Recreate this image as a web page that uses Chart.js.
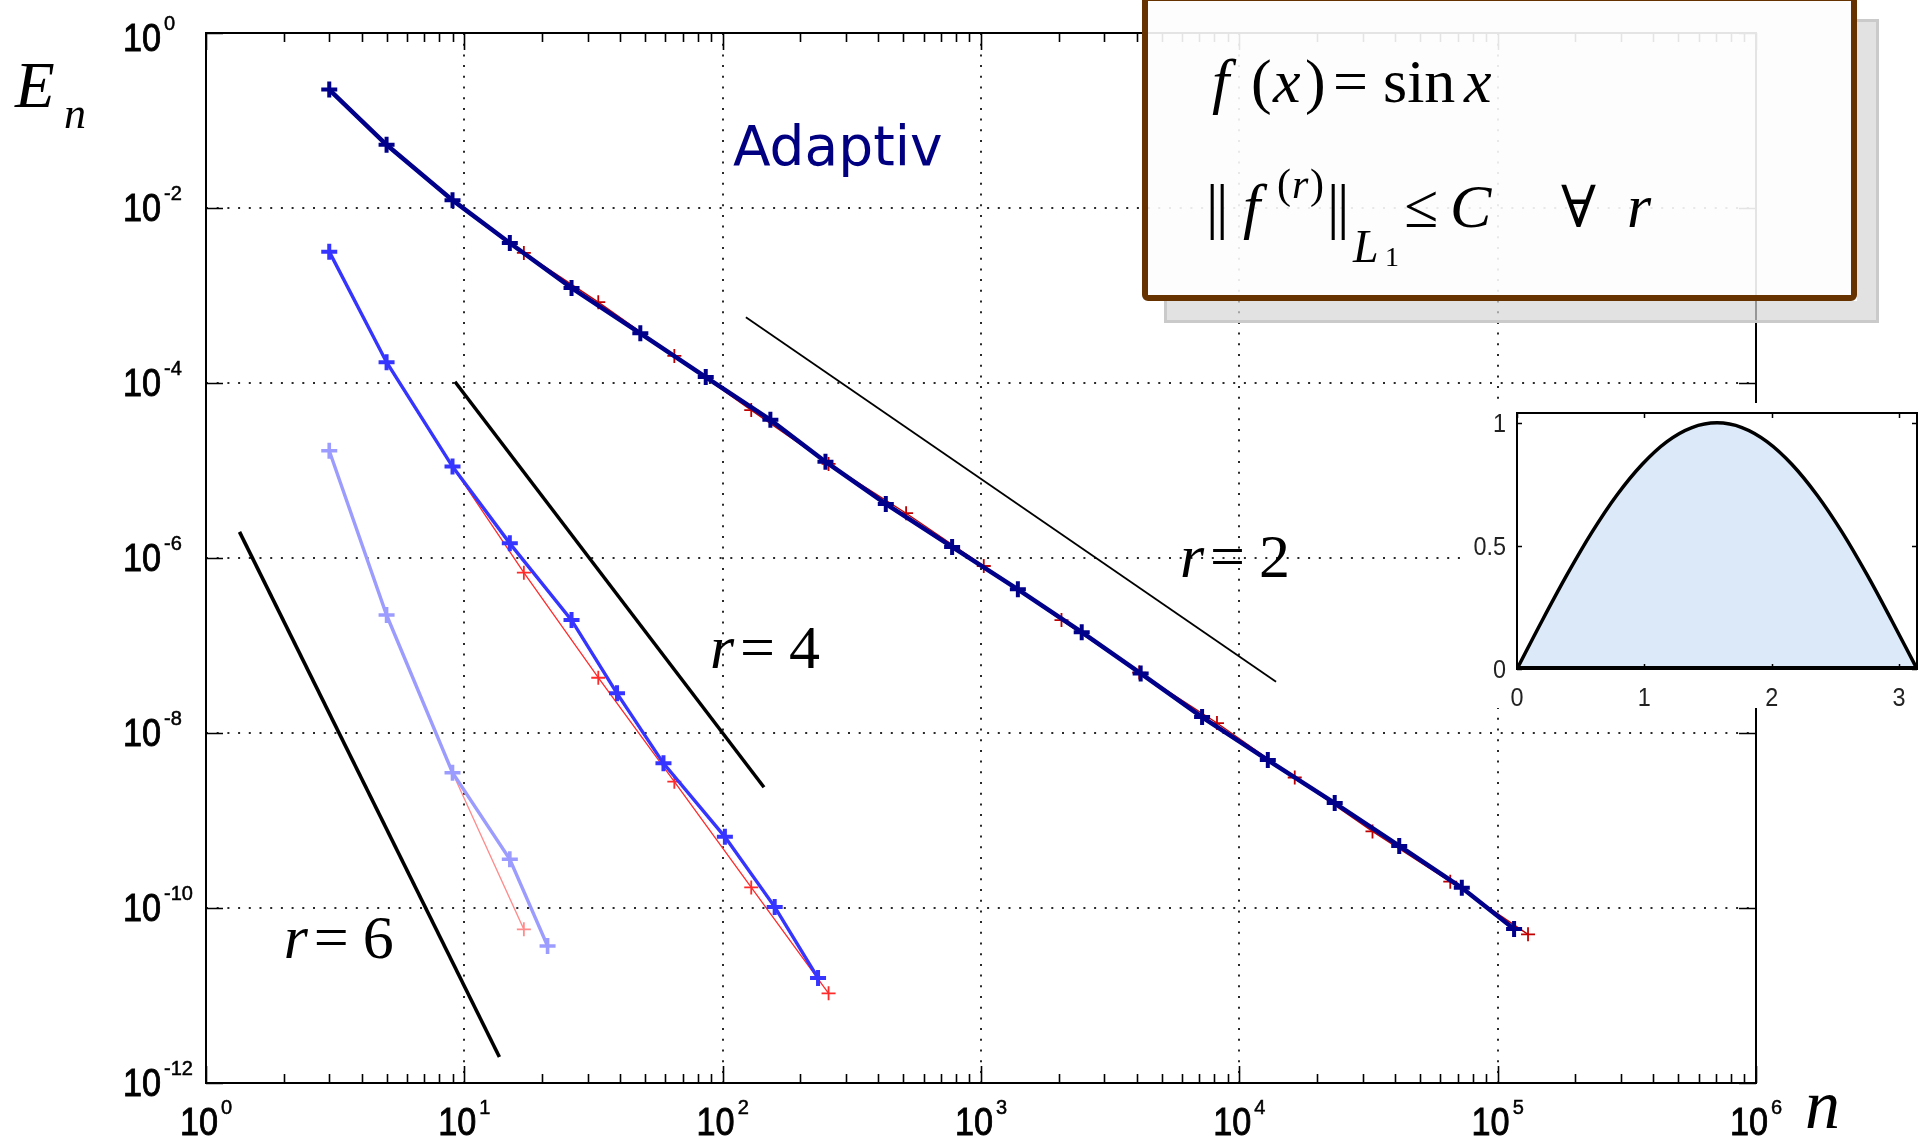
<!DOCTYPE html>
<html>
<head>
<meta charset="utf-8">
<script src="https://cdn.jsdelivr.net/npm/chart.js@4.4.0/dist/chart.umd.min.js"></script>
<style>
html,body{margin:0;padding:0;background:#fff;overflow:hidden}
#wrap{position:relative;width:1926px;height:1141px;background:#fff}
#main{position:absolute;left:0;top:0}
#inset{position:absolute;left:1466px;top:403px;background:#fff}
</style>
</head>
<body>
<div id="wrap">
<canvas id="main" width="1926" height="1141"></canvas>
<canvas id="inset" width="460" height="305"></canvas>
</div>
<script>
// ---------------- data ----------------
const xTickExponents = [0, 1, 2, 3, 4, 5, 6];
const yTickExponents = [0, -2, -4, -6, -8, -10, -12];

// r = 2 : adaptive (dark blue) and uniform (red)
const nAdaptiveR2 = [3, 5, 9, 15, 26, 48, 86, 153, 250, 428, 773, 1389, 2454, 4150, 7175, 12890, 23400, 41590, 72640, 115760];
const eAdaptiveR2 = [0.226, 0.0528, 0.0123, 0.00398, 0.00122, 3.70e-4, 1.17e-4, 3.79e-5, 1.26e-5, 4.15e-6, 1.34e-6, 4.39e-7, 1.42e-7, 4.8e-8, 1.52e-8, 4.91e-9, 1.58e-9, 5.12e-10, 1.70e-10, 5.77e-11];
const nUniformR2 = [3, 5, 9, 17, 33, 65, 129, 257, 513, 1025, 2049, 4097, 8193, 16385, 32769, 65537, 131073];
const eUniformR2 = [0.226, 0.0528, 0.0123, 3.07e-3, 8.4e-4, 2.04e-4, 4.9e-5, 1.19e-5, 3.25e-6, 8.1e-7, 1.95e-7, 4.9e-8, 1.3e-8, 3.1e-9, 7.5e-10, 2.0e-10, 5.0e-11];

// r = 4
const nAdaptiveR4 = [3, 5, 9, 15, 26, 39, 59, 102, 159, 234];
const eAdaptiveR4 = [3.17e-3, 1.73e-4, 1.11e-5, 1.47e-6, 1.95e-7, 2.84e-8, 4.5e-9, 6.5e-10, 1.03e-10, 1.58e-11];
const nUniformR4 = [3, 5, 9, 17, 33, 65, 129, 257];
const eUniformR4 = [3.17e-3, 1.73e-4, 1.11e-5, 6.8e-7, 4.28e-8, 2.78e-9, 1.72e-10, 1.06e-11];

// r = 6
const nAdaptiveR6 = [3, 5, 9, 15, 21];
const eAdaptiveR6 = [1.68e-5, 2.23e-7, 3.52e-9, 3.6e-10, 3.68e-11];
const nUniformR6 = [3, 5, 9, 17];
const eUniformR6 = [1.68e-5, 2.23e-7, 3.52e-9, 5.7e-11];

// reference slopes
const nSlopeR2 = [123, 13870];
const eSlopeR2 = [5.63e-4, 3.86e-8];
const nSlopeR4 = [9.2, 144.5];
const eSlopeR4 = [1.035e-4, 2.4e-9];
const nSlopeR6 = [1.348, 13.67];
const eSlopeR6 = [1.99e-6, 1.98e-12];

// inset: f(x) = sin x
const insetX = [0, 0.196, 0.393, 0.589, 0.785, 0.982, 1.178, 1.374, 1.571, 1.767, 1.963, 2.160, 2.356, 2.553, 2.749, 2.945, 3.142];
const insetY = [0, 0.195, 0.383, 0.556, 0.707, 0.831, 0.924, 0.981, 1.0, 0.981, 0.924, 0.831, 0.707, 0.556, 0.383, 0.195, 0];
const insetXTicks = [0, 1, 2, 3];
const insetYTicks = [0, 0.5, 1];

// ---------------- helpers ----------------
function pts(ns, es) { return ns.map((n, i) => ({ x: n, y: es[i] })); }

function txt(ctx, s, x, y, font, color, sx, align, stroke) {
  sx = sx || 1; align = align || 'left';
  ctx.save();
  ctx.font = font; ctx.fillStyle = color;
  ctx.textBaseline = 'alphabetic'; ctx.textAlign = 'left';
  const w = ctx.measureText(s).width * sx;
  const x0 = align === 'center' ? x - w / 2 : (align === 'right' ? x - w : x);
  ctx.translate(x0, y); ctx.scale(sx, 1);
  ctx.fillText(s, 0, 0);
  if (stroke) { ctx.strokeStyle = color; ctx.lineWidth = stroke; ctx.strokeText(s, 0, 0); }
  ctx.restore();
  return w;
}

const SANS = '"Liberation Sans", Arial, Helvetica, sans-serif';
const SERIF = '"Liberation Serif", "Times New Roman", "DejaVu Serif", serif';
const F_MAIN = '38px ' + SANS, F_EXP = '20px ' + SANS, SX = 0.9;

function powWidths(ctx, exp) {
  ctx.save();
  ctx.font = F_MAIN; const w1 = ctx.measureText('10').width * SX;
  ctx.font = F_EXP; const w2 = ctx.measureText(String(exp)).width;
  ctx.restore();
  return [w1, w2];
}
function drawPow(ctx, exp, left, baseline) {
  const [w1] = powWidths(ctx, exp);
  txt(ctx, '10', left, baseline, F_MAIN, '#000', SX, 'left', 0.9);
  txt(ctx, String(exp), left + w1 + 3, baseline - 21, F_EXP, '#000', 1, 'left', 0.5);
}

// ---------------- main chart decorations ----------------
const decor = {
  id: 'decor',
  beforeDatasetsDraw(chart) {
    const { ctx, chartArea: a, scales: { x, y } } = chart;
    ctx.save();
    ctx.strokeStyle = '#2a2a2a'; ctx.lineWidth = 2; ctx.setLineDash([2, 8.7]);
    xTickExponents.slice(1, -1).forEach(k => {
      const px = Math.round(x.getPixelForValue(Math.pow(10, k)));
      ctx.beginPath(); ctx.moveTo(px, a.top); ctx.lineTo(px, a.bottom); ctx.stroke();
    });
    yTickExponents.slice(1, -1).forEach(k => {
      const py = Math.round(y.getPixelForValue(Math.pow(10, k)));
      ctx.beginPath(); ctx.moveTo(a.left, py); ctx.lineTo(a.right, py); ctx.stroke();
    });
    ctx.restore();
  },
  afterDatasetsDraw(chart) {
    const { ctx, chartArea: a, scales: { x, y } } = chart;
    ctx.save();
    // axes box
    ctx.strokeStyle = '#000'; ctx.lineWidth = 2; ctx.setLineDash([]);
    ctx.strokeRect(a.left, a.top, a.right - a.left, a.bottom - a.top);
    // x ticks (major + minor, bottom and top)
    ctx.lineWidth = 1.6;
    for (let i = 0; i < xTickExponents.length; i++) {
      const k = xTickExponents[i];
      const px = Math.round(x.getPixelForValue(Math.pow(10, k))) + 0.5;
      ctx.beginPath();
      ctx.moveTo(px, a.bottom); ctx.lineTo(px, a.bottom - 17);
      ctx.moveTo(px, a.top); ctx.lineTo(px, a.top + 17);
      ctx.stroke();
      if (i < xTickExponents.length - 1) {
        for (let m = 2; m <= 9; m++) {
          const mx = Math.round(x.getPixelForValue(m * Math.pow(10, k))) + 0.5;
          ctx.beginPath();
          ctx.moveTo(mx, a.bottom); ctx.lineTo(mx, a.bottom - 9);
          ctx.moveTo(mx, a.top); ctx.lineTo(mx, a.top + 9);
          ctx.stroke();
        }
      }
    }
    // y ticks
    yTickExponents.forEach(k => {
      const py = Math.round(y.getPixelForValue(Math.pow(10, k))) + 0.5;
      ctx.beginPath();
      ctx.moveTo(a.left, py); ctx.lineTo(a.left + 17, py);
      ctx.moveTo(a.right, py); ctx.lineTo(a.right - 17, py);
      ctx.stroke();
    });
    // x tick labels
    xTickExponents.forEach(k => {
      const px = x.getPixelForValue(Math.pow(10, k));
      const [w1, w2] = powWidths(ctx, k);
      const total = w1 + 3 + w2;
      drawPow(ctx, k, px - total / 2, a.bottom + 52);
    });
    // y tick labels
    yTickExponents.forEach((k, i) => {
      let py = y.getPixelForValue(Math.pow(10, k));
      if (i === 0) py += 5;
      drawPow(ctx, k, 123, py + 13);
    });

    // axis titles
    txt(ctx, 'E', 15, 107, 'italic 65px ' + SERIF, '#000');
    txt(ctx, 'n', 64, 128, 'italic 44px ' + SERIF, '#000');
    txt(ctx, 'n', 1805, 1128, 'italic 70px ' + SERIF, '#000');

    // annotations anchored in data coordinates
    const ax = x.getPixelForValue(109.6), ay = y.getPixelForValue(0.031);
    txt(ctx, 'Adaptiv', ax, ay, '55px "DejaVu Sans", Verdana, sans-serif', '#000080');
    const rLabels = [
      { d: '2', n: 5893, e: 6.07e-7 },
      { d: '4', n: 89.3, e: 5.53e-8 },
      { d: '6', n: 2.0, e: 2.68e-11 }
    ];
    rLabels.forEach(L => {
      const lx = x.getPixelForValue(L.n), ly = y.getPixelForValue(L.e);
      txt(ctx, 'r', lx, ly, 'italic 62px ' + SERIF, '#000');
      txt(ctx, '=', lx + 30, ly, '62px ' + SERIF, '#000');
      txt(ctx, L.d, lx + 79, ly, '62px ' + SERIF, '#000');
    });

    // legend / formula box with shadow
    const bx = 1145, by = -2, bw = 709, bh = 300;
    const sxx = 1164, syy = 19, sw = 715, sh = 304;
    ctx.save();
    ctx.beginPath();
    ctx.rect(0, 0, 1926, 1141);
    ctx.rect(bx - 3, by - 3, bw + 6, bh + 6);
    ctx.clip('evenodd');
    ctx.fillStyle = 'rgba(214,214,214,0.7)';
    ctx.fillRect(sxx, syy, sw, sh);
    ctx.strokeStyle = 'rgba(200,200,200,0.9)'; ctx.lineWidth = 3;
    ctx.strokeRect(sxx + 1.5, syy + 1.5, sw - 3, sh - 3);
    ctx.restore();

    ctx.fillStyle = 'rgba(253,253,253,0.9)';
    ctx.fillRect(bx, by, bw, bh);
    ctx.strokeStyle = '#663300'; ctx.lineWidth = 6;
    ctx.beginPath();
    if (ctx.roundRect) ctx.roundRect(bx, by, bw, bh, 3); else ctx.rect(bx, by, bw, bh);
    ctx.stroke();

    const I60 = 'italic 62px ' + SERIF, R60 = '62px ' + SERIF;
    // line 1 : f(x) = sin x
    txt(ctx, 'f', 1212, 102, I60, '#000');
    txt(ctx, '(', 1251, 102, R60, '#000');
    txt(ctx, 'x', 1273, 102, I60, '#000');
    txt(ctx, ')', 1305, 102, R60, '#000');
    txt(ctx, '=', 1333, 102, R60, '#000');
    txt(ctx, 'sin', 1383, 102, R60, '#000');
    txt(ctx, 'x', 1464, 102, I60, '#000');
    // line 2 : ||f^(r)||_{L1} <= C   forall r
    txt(ctx, '|', 1206, 227, R60, '#000');
    txt(ctx, '|', 1216, 227, R60, '#000');
    txt(ctx, 'f', 1243, 227, I60, '#000');
    txt(ctx, '(', 1277, 198, '42px ' + SERIF, '#000');
    txt(ctx, 'r', 1292, 198, 'italic 42px ' + SERIF, '#000');
    txt(ctx, ')', 1310, 198, '42px ' + SERIF, '#000');
    txt(ctx, '|', 1327, 227, R60, '#000');
    txt(ctx, '|', 1337, 227, R60, '#000');
    txt(ctx, 'L', 1353, 262, 'italic 46px ' + SERIF, '#000');
    txt(ctx, '1', 1385, 266, '28px ' + SERIF, '#000');
    txt(ctx, '\u2264', 1404, 227, R60, '#000');
    txt(ctx, 'C', 1450, 227, I60, '#000');
    txt(ctx, '\u2200', 1561, 227, '58px "DejaVu Serif", ' + SERIF, '#000');
    txt(ctx, 'r', 1627, 227, I60, '#000');
    ctx.restore();
  }
};

function lineDs(ns, es, color, bw, radius, pbw, order) {
  return {
    data: pts(ns, es), showLine: true, fill: false, tension: 0,
    borderColor: color, backgroundColor: color, borderWidth: bw,
    pointStyle: 'cross', pointRadius: radius, pointBorderWidth: pbw,
    pointBorderColor: color, pointBackgroundColor: color, order: order
  };
}

new Chart(document.getElementById('main'), {
  type: 'scatter',
  data: {
    datasets: [
      lineDs(nAdaptiveR2, eAdaptiveR2, '#00008b', 4.5, 8, 4, 0),
      lineDs(nAdaptiveR4, eAdaptiveR4, '#3535ff', 3.4, 8, 4, 1),
      lineDs(nAdaptiveR6, eAdaptiveR6, '#9c9cff', 3.4, 8, 3.6, 2),
      lineDs(nUniformR2, eUniformR2, '#c00000', 1.4, 7, 1.8, 3),
      lineDs(nUniformR4, eUniformR4, '#ff2a2a', 1.3, 7, 1.8, 4),
      lineDs(nUniformR6, eUniformR6, '#ff8c8c', 1.3, 7, 1.8, 5),
      lineDs(nSlopeR2, eSlopeR2, '#000', 1.8, 0, 0, 6),
      lineDs(nSlopeR4, eSlopeR4, '#000', 3.5, 0, 0, 7),
      lineDs(nSlopeR6, eSlopeR6, '#000', 3.6, 0, 0, 8)
    ]
  },
  options: {
    responsive: false, animation: false, devicePixelRatio: 1, events: [],
    layout: { padding: { left: 206, top: 33, right: 170, bottom: 58 } },
    plugins: { legend: { display: false }, tooltip: { enabled: false } },
    scales: {
      x: { type: 'logarithmic', min: 1, max: 1e6, display: false },
      y: { type: 'logarithmic', min: 1e-12, max: 1, display: false }
    }
  },
  plugins: [decor]
});

// ---------------- inset chart ----------------
const insetAxes = {
  id: 'insetAxes',
  afterDatasetsDraw(chart) {
    const { ctx, chartArea: a, scales: { x, y } } = chart;
    ctx.save();
    ctx.strokeStyle = '#000'; ctx.lineWidth = 2;
    ctx.strokeRect(a.left, a.top, a.right - a.left, a.bottom - a.top);
    ctx.lineWidth = 4;
    ctx.beginPath(); ctx.moveTo(a.left, a.bottom - 1); ctx.lineTo(a.right, a.bottom - 1); ctx.stroke();
    ctx.lineWidth = 1.5;
    insetXTicks.forEach(v => {
      const px = Math.round(x.getPixelForValue(v)) + 0.5;
      ctx.beginPath();
      ctx.moveTo(px, a.top); ctx.lineTo(px, a.top + 5);
      ctx.moveTo(px, a.bottom); ctx.lineTo(px, a.bottom - 5);
      ctx.stroke();
      txt(ctx, String(v), x.getPixelForValue(v), a.bottom + 37, '26px ' + SANS, '#222', 0.9, 'center');
    });
    insetYTicks.forEach(v => {
      const py = Math.round(y.getPixelForValue(v)) + 0.5;
      ctx.beginPath();
      ctx.moveTo(a.left, py); ctx.lineTo(a.left + 5, py);
      ctx.moveTo(a.right, py); ctx.lineTo(a.right - 5, py);
      ctx.stroke();
      txt(ctx, String(v), a.left - 11, y.getPixelForValue(v) + 9, '26px ' + SANS, '#222', 0.9, 'right');
    });
    ctx.restore();
  }
};

new Chart(document.getElementById('inset'), {
  type: 'scatter',
  data: {
    datasets: [{
      data: pts(insetX, insetY), showLine: true, tension: 0.35,
      borderColor: '#000', borderWidth: 3.5, pointRadius: 0,
      fill: 'origin', backgroundColor: '#dce9f8'
    }]
  },
  options: {
    responsive: false, animation: false, devicePixelRatio: 1, events: [],
    layout: { padding: { left: 51, top: 10, right: 9, bottom: 39 } },
    plugins: { legend: { display: false }, tooltip: { enabled: false } },
    scales: {
      x: { type: 'linear', min: 0, max: 3.1416, display: false },
      y: { type: 'linear', min: 0, max: 1.04, display: false }
    }
  },
  plugins: [insetAxes]
});
</script>
</body>
</html>
